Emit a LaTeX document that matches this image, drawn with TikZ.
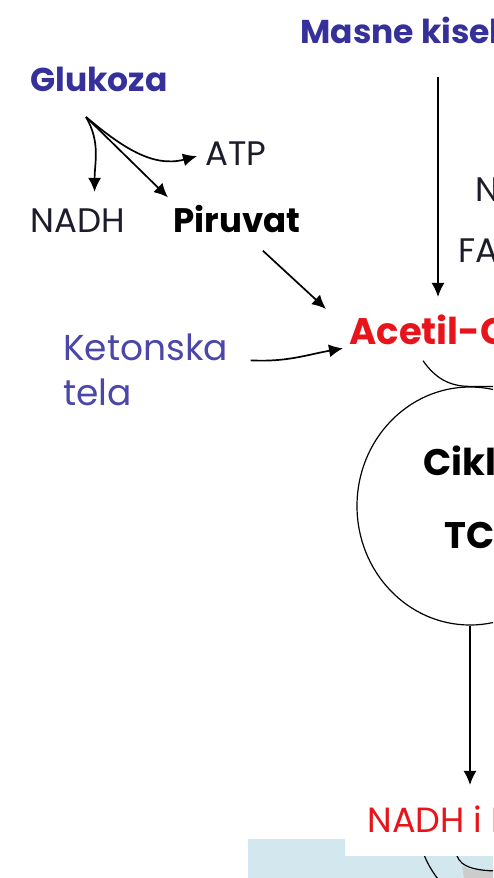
\documentclass[tikz,border=0pt]{standalone}
\usepackage{fontspec}
\setmainfont{Poppins}
\usetikzlibrary{arrows.meta,shapes.geometric}

\definecolor{srcblue}{HTML}{36319A}
\definecolor{ketblue}{HTML}{4A47A8}
\definecolor{hubred}{HTML}{E8141C}
\definecolor{prodgray}{HTML}{1C1C2A}
\definecolor{mito}{HTML}{D3E8EE}

\begin{document}
\begin{tikzpicture}[x=0.5pt,y=-0.5pt]
	\tikzstyle{label} = [inner sep=0pt, anchor=base west]
	\tikzstyle{source} = [label, text=srcblue, font=\bfseries\fontsize{16.5}{20}\selectfont]
	\tikzstyle{minor} = [label, text=ketblue, font=\fontsize{18}{22.5}\selectfont, align=left]
	\tikzstyle{product} = [label, text=prodgray, font=\fontsize{17}{20}\selectfont]
	\tikzstyle{middle} = [label, text=black, font=\bfseries\fontsize{17}{20}\selectfont]
	\tikzstyle{hub} = [label, text=hubred, font=\bfseries\fontsize{18.5}{20}\selectfont]
	\tikzstyle{cyclebox} = [draw, ellipse, line width=0.6pt, minimum width=113pt, minimum height=119pt]
	\tikzstyle{cycletext} = [inner sep=0pt, align=center, font=\bfseries\fontsize{18.5}{36.5}\selectfont]
	\tikzset{edge/.style = {line width=0.85pt, -{Latex[length=7pt,width=6.5pt]}}}

	\path[use as bounding box, clip] (0,0) rectangle (493,878);

	% membrane strip at the bottom
	\fill[mito] (248,839) rectangle (500,890);
	\fill[gray!40] (462,866) .. controls (470,870) and (478,871) .. (500,871) -- (500,890) -- (466,890) -- cycle;
	\draw[line width=0.6pt] (423,852) .. controls (428,866) and (434,874) .. (446,890);
	\draw[line width=0.6pt] (456,852) .. controls (458,864) and (468,871) .. (500,871);

	\node[source] (masne) at (300,43) {Masne kiseline};
	\node[source] (glukoza) at (30,91) {Glukoza};
	\coordinate (glikoliza) at (86,117);
	\node[product] (nadh) at (30,232) {NADH};
	\node[product] (atp) at (205,165) {ATP};
	\node[middle] (piruvat) at (173,232) {Piruvat};
	\node[hub] (acetil) at (349,344) {Acetil-CoA};
	\node[minor] (ketoni) at (63,405) {Ketonska\\tela};
	\node[product] (nadhb) at (475,201) {NADH};
	\node[product] (fadh) at (458,262) {FADH\textsubscript{2}};

	\node[cyclebox] (ciklus) at (470,506) {};
	\node[cycletext] (ciklustxt) at (483,497) {Ciklus\\TCA};

	\node[label, fill=white, inner xsep=11pt, inner ysep=9pt, text=hubred,
		font=\fontsize{17.5}{20}\selectfont] (redukovani) at (345,832) {NADH i FADH\textsubscript{2}};

	% glikoliza
	\draw[edge] (glikoliza) to[out=-60, in=90] ([xshift=8.5pt, yshift=8pt]nadh.north);
	\draw[edge] (glikoliza) -- ([shift={(-2.5pt,3.5pt)}]piruvat.north west);
	\draw[edge] (glikoliza) to[out=-40, in=195] ([shift={(-4pt,-1.5pt)}]atp.west);

	\draw[edge] ([shift={(13pt,-9pt)}]piruvat.south) -- ([shift={(-11.5pt,2.5pt)}]acetil.north west);
	\draw[edge] ([shift={(69pt,-16.5pt)}]masne.south west) -- ([shift={(44.5pt,8.5pt)}]acetil.north west);
	\draw[edge] ([shift={(11pt,4.5pt)}]ketoni.east) to[out=-3, in=190] ([shift={(-3pt,-9.5pt)}]acetil.west);

	% ulaz u ciklus
	\draw[line width=0.6pt] ([shift={(37pt,-8pt)}]acetil.south west) to[out=-55, in=180] (ciklus.north) -- ([xshift=20pt]ciklus.north);

	\draw[edge] (ciklus.south) -- ([yshift=1pt]ciklus.south |- redukovani.north);
\end{tikzpicture}
\end{document}
